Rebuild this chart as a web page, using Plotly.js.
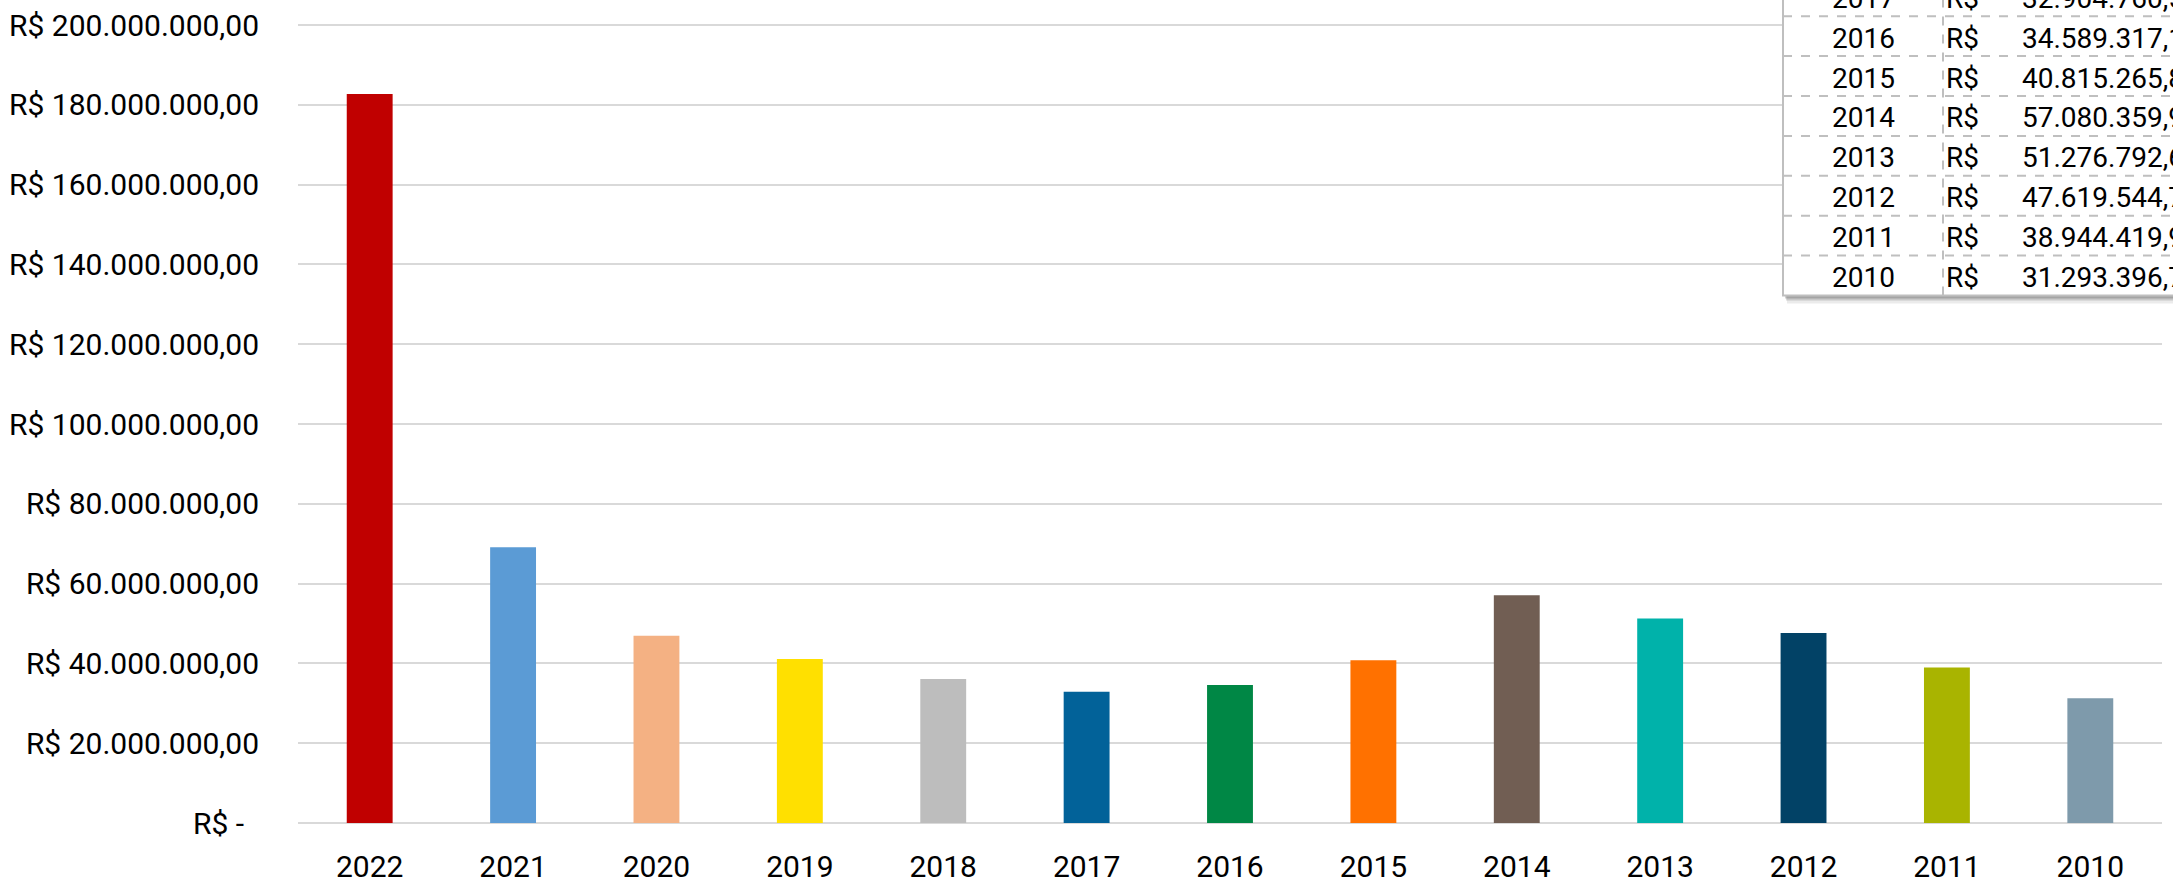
<!DOCTYPE html>
<html>
<head>
<meta charset="utf-8">
<script src="https://cdn.plot.ly/plotly-3.0.1.min.js"></script>
<style>html,body{margin:0;padding:0;background:#fff;overflow:hidden;}#chart{width:2173px;height:885px;}</style>
</head>
<body>
<div id="chart"></div>
<script>
// ---- data ----
const years = ['2022','2021','2020','2019','2018','2017','2016','2015','2014','2013','2012','2011','2010'];
const values = [182700000, 69100000, 46900000, 41100000, 36100000, 32904760.53, 34589317.15, 40815265.82, 57080359.94, 51276792.61, 47619544.72, 38944419.95, 31293396.71];
const barColors = ['#C00000','#5B9BD5','#F4B183','#FFE000','#BDBDBD','#026299','#008745','#FF7100','#715E53','#00B2AA','#024266','#A9B400','#7E9AAB'];
const yTickVals = [0, 20000000, 40000000, 60000000, 80000000, 100000000, 120000000, 140000000, 160000000, 180000000, 200000000];
const tableYears = ['2017','2016','2015','2014','2013','2012','2011','2010'];

function fmtBR(v){
  const parts = v.toFixed(2).split('.');
  return parts[0].replace(/\B(?=(\d{3})+(?!\d))/g,'.') + ',' + parts[1];
}
const yTickText = yTickVals.map(v => v === 0 ? 'R$ -\u00a0\u00a0' : 'R$ ' + fmtBR(v));
const tableValues = tableYears.map(y => values[years.indexOf(y)]);

// ---- layout geometry (pixels) ----
const W = 2173, H = 885;
const L = 298, R = 11, T = 0, B = 62;
const PW = W - L - R, PH = H - T - B;
const xp = px => (px - L) / PW;
const yp = py => (H - B - py) / PH;

const font = 'Roboto, "Noto Sans", sans-serif';
const gridCol = '#d9d9d9';
const tblLine = '#bfbfbf';

const shapes = [];
const annotations = [];
// table geometry
const tX0 = 1783, tX1 = 2200, tSep = 1943, tBottom = 295.5, rowH = 39.9;
const nRows = tableYears.length;
const tTop = tBottom - rowH * nRows; // top of first visible row (2017)
// shadow
shapes.push({type:'rect', xref:'paper', yref:'paper', x0:xp(tX0+4), x1:xp(tX1), y0:yp(tBottom+8), y1:yp(tBottom-4), fillcolor:'rgba(0,0,0,0.08)', line:{width:0}, layer:'above'});
shapes.push({type:'rect', xref:'paper', yref:'paper', x0:xp(tX0+3), x1:xp(tX1), y0:yp(tBottom+5), y1:yp(tBottom-4), fillcolor:'rgba(0,0,0,0.15)', line:{width:0}, layer:'above'});
shapes.push({type:'rect', xref:'paper', yref:'paper', x0:xp(tX0+2), x1:xp(tX1), y0:yp(tBottom+3), y1:yp(tBottom-4), fillcolor:'rgba(0,0,0,0.18)', line:{width:0}, layer:'above'});
// table body
shapes.push({type:'rect', xref:'paper', yref:'paper', x0:xp(tX0), x1:xp(tX1), y0:yp(tBottom), y1:yp(-60), fillcolor:'#ffffff', line:{color:tblLine, width:2}, layer:'above'});
// horizontal dashed row lines
for (let i = 0; i < nRows; i++) {
  const y = tTop + rowH * i;
  if (i > 0 || y > 0) {
    shapes.push({type:'line', xref:'paper', yref:'paper', x0:xp(tX0), x1:xp(tX1), y0:yp(y), y1:yp(y), line:{color:tblLine, width:2, dash:'dash'}, layer:'above'});
  }
}
// vertical dashed separator
shapes.push({type:'line', xref:'paper', yref:'paper', x0:xp(tSep), x1:xp(tSep), y0:yp(tBottom), y1:yp(-60), line:{color:tblLine, width:2, dash:'dash'}, layer:'above'});
// texts
tableYears.forEach((yr, i) => {
  const cy = tTop + rowH * (i + 0.5) + 2;
  const tf = {family:font, size:28, color:'#000000'};
  annotations.push({xref:'paper', yref:'paper', x:xp((tX0+tSep)/2), y:yp(cy), text:yr, showarrow:false, xanchor:'center', yanchor:'middle', font:tf});
  annotations.push({xref:'paper', yref:'paper', x:xp(tSep+1), y:yp(cy), text:'R$', showarrow:false, xanchor:'left', yanchor:'middle', font:tf});
  annotations.push({xref:'paper', yref:'paper', x:xp(2020), y:yp(cy), text:fmtBR(tableValues[i]), showarrow:false, xanchor:'left', yanchor:'middle', font:tf});
});

const trace = {
  type:'bar', x: years, y: values,
  marker:{color: barColors, line:{width:0}},
  hoverinfo:'skip'
};

const layout = {
  width: W, height: H,
  margin:{l:L, r:R, t:T, b:B, pad:0},
  paper_bgcolor:'#ffffff', plot_bgcolor:'#ffffff',
  showlegend:false,
  bargap:0.68,
  font:{family:font, size:30, color:'#000000'},
  xaxis:{
    type:'category', showgrid:false, zeroline:false, showline:false,
    ticks:'', tickfont:{family:font, size:30, color:'#000000'},
    ticklabelstandoff:23
  },
  yaxis:{
    range:[0, PH * 20000000 / 79.8],
    tickvals: yTickVals, ticktext: yTickText,
    showgrid:true, gridcolor:gridCol, gridwidth:2,
    zeroline:true, zerolinecolor:gridCol, zerolinewidth:2,
    showline:false, ticks:'',
    tickfont:{family:font, size:30, color:'#000000'},
    ticklabelstandoff:38
  },
  shapes: shapes,
  annotations: annotations
};

Plotly.newPlot('chart', [trace], layout, {displayModeBar:false, staticPlot:true});
</script>
</body>
</html>
